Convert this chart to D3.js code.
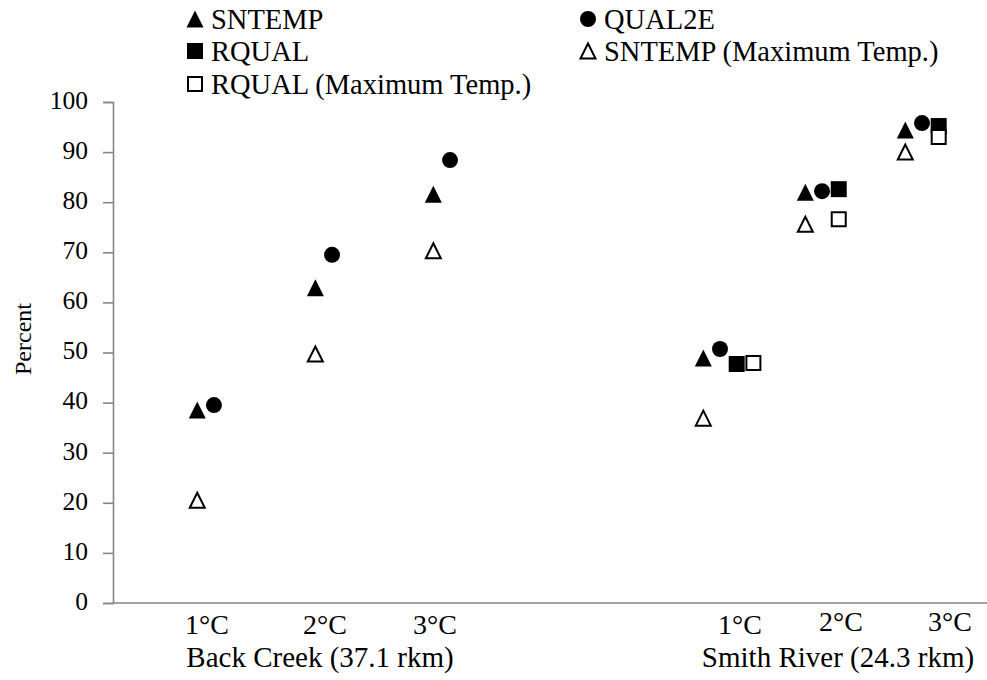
<!DOCTYPE html>
<html>
<head>
<meta charset="utf-8">
<script src="https://cdn.jsdelivr.net/npm/d3@7"></script>
<style>
  body { margin: 0; background: #fff; }
  svg text { font-family: "Liberation Serif", "Times New Roman", serif; fill: #000; }
</style>
</head>
<body>
<svg id="chart" width="987" height="680"></svg>
<script>
// group positions on the x scale (one per site/temperature)
const groupPos = [0.924, 2.005, 3.085, 5.556, 6.49, 7.405];
const tickNames = ["1°C", "2°C", "3°C", "1°C", "2°C", "3°C"];
const tickPos = [0.86, 1.94, 2.947, 5.739, 6.664, 7.661];
const tickLift = [0, 0, 0, 0, 3, 3];
const sites = ["Back Creek (37.1 rkm)", "Smith River (24.3 rkm)"];
const sitePos = [1.895, 6.636];
const yTicks = [0, 10, 20, 30, 40, 50, 60, 70, 80, 90, 100];

// percent values
const sntemp    = [38.5, 62.9, 81.6, 48.9, 82.0, 94.4];
const qual2e    = [39.5, 69.5, 88.4, 50.7, 82.2, 95.8];
const rqual     = [null, null, null, 47.7, 82.6, 95.2];
const sntempMax = [20.5, 49.7, 70.3, 36.9, 75.6, 90.0];
const rqualMax  = [null, null, null, 47.9, 76.6, 93.0];
// side-by-side slot of each series inside a group
const rqualMaxSlot = [2, 2, 2, 2, 1, 1];

const series = [
  {name: "SNTEMP", values: sntemp, shape: "triangle", filled: true, slot: () => -1},
  {name: "QUAL2E", values: qual2e, shape: "circle", filled: true, slot: () => 0},
  {name: "RQUAL", values: rqual, shape: "square", filled: true, slot: () => 1},
  {name: "SNTEMP (Maximum Temp.)", values: sntempMax, shape: "triangle", filled: false, slot: () => -1},
  {name: "RQUAL (Maximum Temp.)", values: rqualMax, shape: "square", filled: false, slot: i => rqualMaxSlot[i]}
];
// legend order (two columns)
const legendOrder = ["SNTEMP", "QUAL2E", "RQUAL", "SNTEMP (Maximum Temp.)", "RQUAL (Maximum Temp.)"];

const svg = d3.select("#chart");
const margin = {left: 113, right: 0, top: 102, bottom: 77};
const W = 987, H = 680;
const slotPx = 16.7;
const axisColor = "#868686";

const x = d3.scaleLinear().domain([0, 8]).range([margin.left, W - margin.right]);
const y = d3.scaleLinear().domain([0, 100]).range([H - margin.bottom, margin.top]);

// y axis
const yAxis = svg.append("g")
  .attr("transform", `translate(${margin.left},0)`)
  .call(d3.axisLeft(y).tickValues(yTicks).tickSize(10).tickPadding(15));
yAxis.attr("font-family", null).attr("font-size", null);
yAxis.select(".domain").attr("stroke", axisColor).attr("stroke-width", 1.6);
yAxis.selectAll(".tick line").attr("stroke", axisColor).attr("stroke-width", 1.6);
yAxis.selectAll(".tick text")
  .style("font-size", "25.5px")
  .style("font-family", '"Liberation Serif", "Times New Roman", serif')
  .attr("dy", "0.25em").attr("fill", "#000");

// x axis line (no ticks)
svg.append("line")
  .attr("x1", x(0)).attr("x2", x(8))
  .attr("y1", y(0)).attr("y2", y(0))
  .attr("stroke", axisColor).attr("stroke-width", 1.6);

svg.append("text")
  .attr("transform", `translate(31,339) rotate(-90)`)
  .attr("text-anchor", "middle")
  .attr("font-size", 24)
  .text("Percent");

svg.selectAll(".cat").data(tickNames).join("text")
  .attr("class", "cat")
  .attr("x", (d, i) => x(tickPos[i]))
  .attr("y", (d, i) => y(0) + 31 - tickLift[i])
  .attr("text-anchor", "middle")
  .attr("font-size", 28)
  .text(d => d);

svg.selectAll(".site").data(sites).join("text")
  .attr("class", "site")
  .attr("x", (d, i) => x(sitePos[i]))
  .attr("y", y(0) + 64)
  .attr("text-anchor", "middle")
  .attr("font-size", 29)
  .text(d => d);

// marker paths
function markerPath(shape, filled) {
  const s = filled ? 17 : 15;
  if (shape === "triangle") {
    const h = s / 2;
    return `M0,${-h}L${h},${h}L${-h},${h}Z`;
  }
  if (shape === "square") {
    const h = (filled ? 16 : 14) / 2;
    return `M${-h},${-h}H${h}V${h}H${-h}Z`;
  }
  return d3.symbol(d3.symbolCircle, Math.PI * 64)();
}

function drawMarker(g, s) {
  g.append("path")
    .attr("d", markerPath(s.shape, s.filled))
    .attr("fill", s.filled ? "#000" : "#fff")
    .attr("stroke", s.filled ? "none" : "#000")
    .attr("stroke-width", 2);
}

series.forEach(s => {
  const pts = s.values.map((v, i) => ({v, i})).filter(d => d.v != null);
  pts.forEach(d => {
    const g = svg.append("g")
      .attr("transform", `translate(${x(groupPos[d.i]) + s.slot(d.i) * slotPx},${y(d.v)})`);
    drawMarker(g, s);
  });
});

// legend
const legCols = [195, 588];
const legRows = [19, 51, 84];
legendOrder.forEach((name, k) => {
  const s = series.find(d => d.name === name);
  const cx = legCols[k % 2], cy = legRows[Math.floor(k / 2)];
  const g = svg.append("g").attr("transform", `translate(${cx},${cy})`);
  drawMarker(g, s);
  svg.append("text")
    .attr("x", cx + 16).attr("y", cy + 9.5)
    .attr("font-size", 28.5)
    .text(name);
});
</script>
</body>
</html>
